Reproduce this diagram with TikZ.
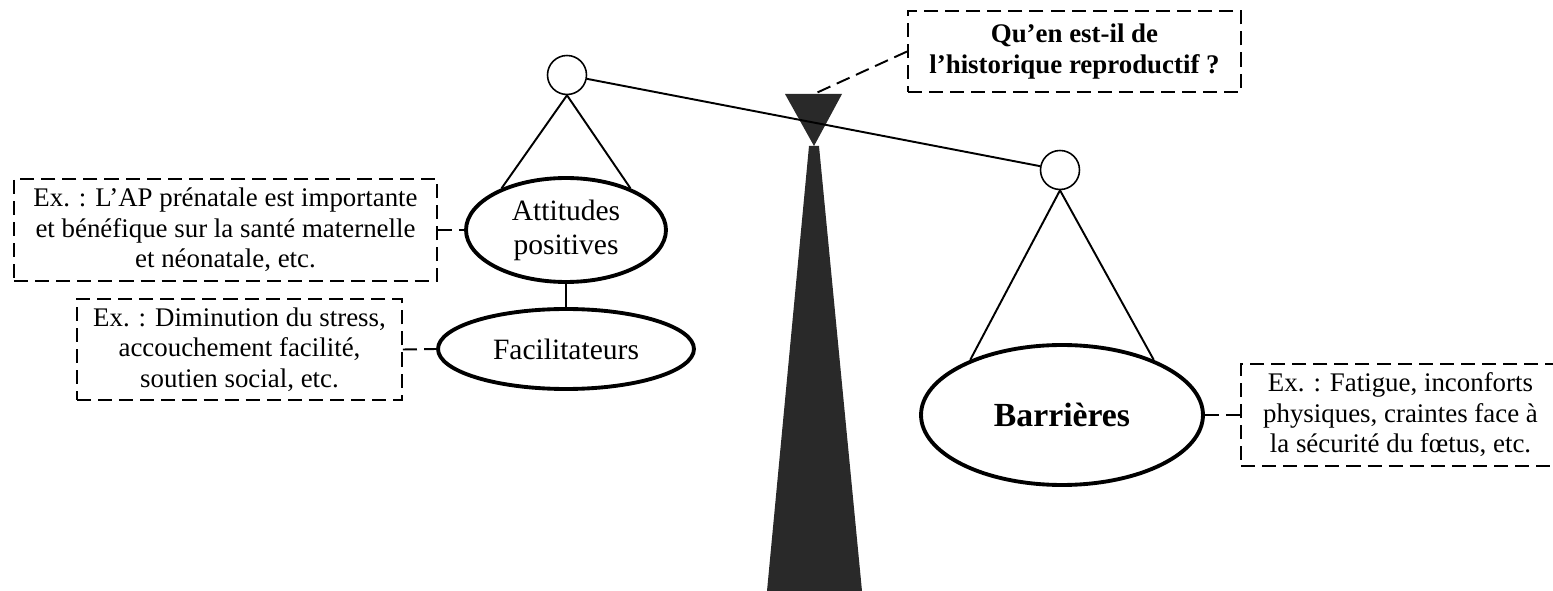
\documentclass[tikz,border=0pt]{standalone}
\usepackage{fontspec}
\setmainfont{Liberation Serif}
\usepackage{tikz}
\usetikzlibrary{shapes.geometric,positioning}

\begin{document}
\begin{tikzpicture}[x=0.02cm, y=-0.02cm, line width=1.1pt,
		exbox/.style={draw, dash pattern=on 8pt off 4pt, align=center, inner sep=0pt,
			font=\fontsize{15.3}{17.4}\selectfont},
		pan/.style={draw, ellipse, line width=2.2pt, align=center, inner sep=0pt,
			font=\fontsize{16.8}{19.3}\selectfont},
		hook/.style={draw, circle, line width=0.9pt, minimum size=0.78cm, inner sep=0pt},
		link/.style={dash pattern=on 8pt off 4pt}]
	\useasboundingbox (0,0) rectangle (1553,591);

	% the scale itself
	\fill[black!84] (809,146) -- (819,146) -- (862,591) -- (767,591) -- cycle;
	\fill[black!84] (785,94) -- (842,94) -- (814,146) -- cycle;
	\coordinate (pivot) at (814,94);

	\node[hook] (hl) at (567,75) {};
	\node[hook] (hr) at (1060,170) {};
	\draw (hl) -- (hr);

	\node[pan, minimum width=4cm, minimum height=2.08cm] (att) at (566,230) {Attitudes\\positives};
	\node[pan, minimum width=5.12cm, minimum height=1.6cm] (fac) at (566,349) {Facilitateurs};
	\node[pan, minimum width=5.64cm, minimum height=2.8cm,
		font=\fontsize{19.2}{22}\selectfont\bfseries] (bar) at (1062,415) {Barrières};

	\draw (hl.south) -- (att.147);
	\draw (hl.south) -- (att.33);
	\draw (att) -- (fac);
	\draw (hr.south) -- (bar.149);
	\draw (hr.south) -- (bar.31);

	\node[exbox, minimum width=8.46cm, minimum height=2.04cm] (exatt) at (225.5,230)
		{Ex. : L’AP prénatale est importante\\et bénéfique sur la santé maternelle\\et néonatale, etc.};
	\node[exbox, minimum width=6.5cm, minimum height=2.02cm] (exfac) at (239.5,349.5)
		{Ex. : Diminution du stress,\\accouchement facilité,\\soutien social, etc.};
	\node[exbox, minimum width=6.38cm, minimum height=2.04cm] (exbar) at (1400.5,415)
		{Ex. : Fatigue, inconforts\\physiques, craintes face à\\la sécurité du fœtus, etc.};
	\node[exbox, minimum width=6.66cm, minimum height=1.62cm, font=\fontsize{15.3}{17.4}\selectfont\bfseries]
		(quest) at (1074.5,51.5) {Qu’en est-il de\\l’historique reproductif ?};

	\draw[link] (exatt.east) -- (att.west);
	\draw[link] (exfac.east) -- (fac.west);
	\draw[link] (bar.east) -- (exbar.west);
	\draw[link] (quest.west) -- (pivot);
\end{tikzpicture}
\end{document}
